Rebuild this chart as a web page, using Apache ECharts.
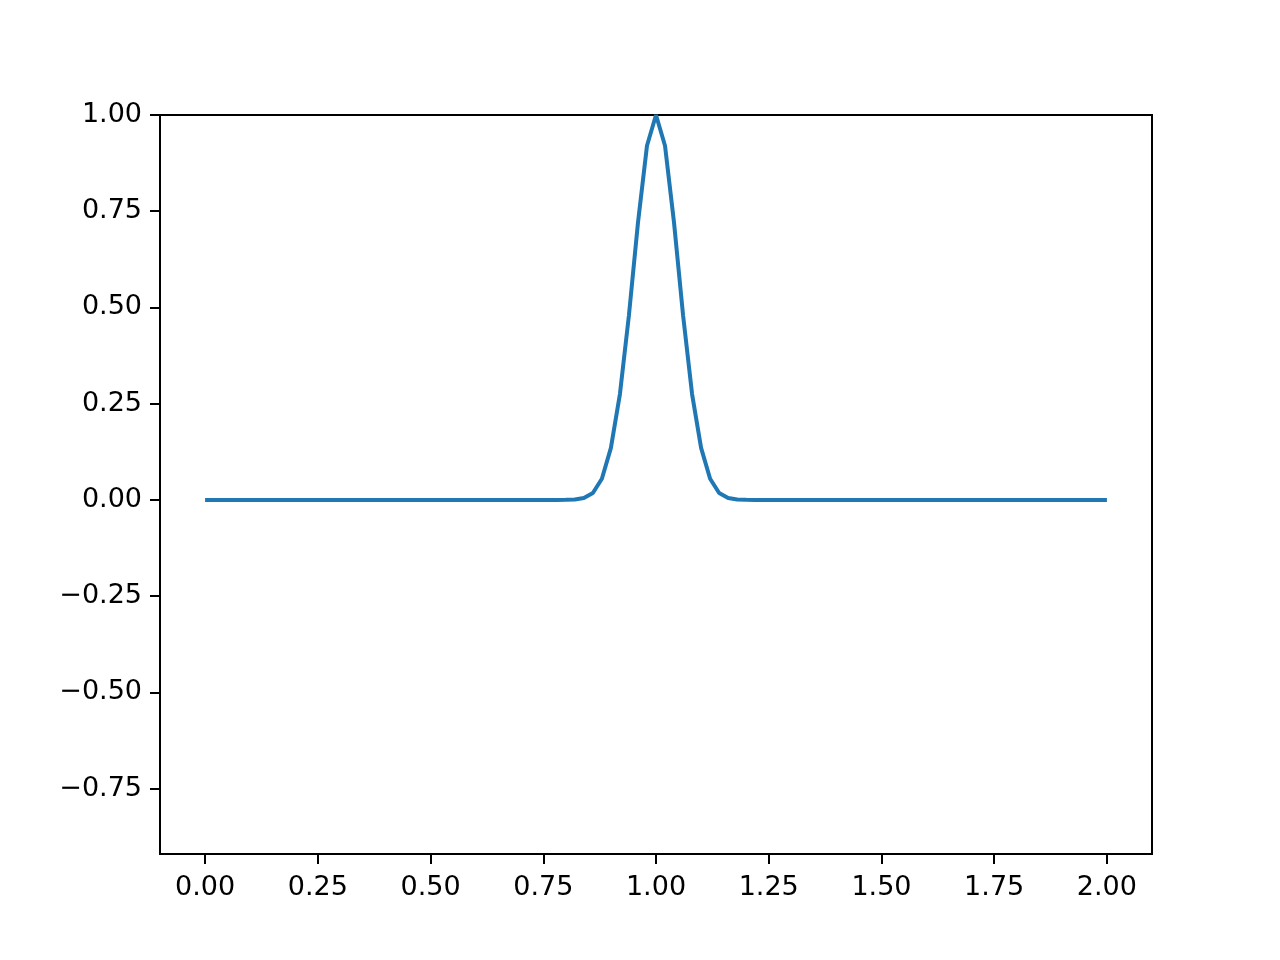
<!DOCTYPE html>
<html>
<head>
<meta charset="utf-8">
<script src="https://cdn.jsdelivr.net/npm/echarts@6/dist/echarts.min.js"></script>
<style>
html,body{margin:0;padding:0;background:#fff;}
#chart{width:1280px;height:960px;}
</style>
</head>
<body>
<div id="chart"></div>
<script>
const xValues = [0.00, 0.78, 0.80, 0.82, 0.84, 0.86, 0.88, 0.90, 0.92, 0.94, 0.96, 0.98, 1.00, 1.02, 1.04, 1.06, 1.08, 1.10, 1.12, 1.14, 1.16, 1.18, 1.20, 1.22, 2.00];
const yValues = [0.000, 0.000, 0.0003, 0.0012, 0.005, 0.018, 0.055, 0.135, 0.275, 0.48, 0.72, 0.92, 1.00, 0.92, 0.72, 0.48, 0.275, 0.135, 0.055, 0.018, 0.005, 0.0012, 0.0003, 0.000, 0.000];
const xTicks = [0.00, 0.25, 0.50, 0.75, 1.00, 1.25, 1.50, 1.75, 2.00];
const yTicks = [-0.75, -0.50, -0.25, 0.00, 0.25, 0.50, 0.75, 1.00];

const fmt = v => (v < 0 ? '\u2212' : '') + Math.abs(v).toFixed(2);
const chart = echarts.init(document.getElementById('chart'), null, {renderer: 'canvas'});
const labelStyle = {color: '#000', fontFamily: 'DejaVu Sans', fontSize: 27};
chart.setOption({
  animation: false,
  backgroundColor: '#fff',
  grid: {left: 160, right: 128, top: 115, bottom: 106, show: true, borderColor: '#000', borderWidth: 2, backgroundColor: 'transparent'},
  xAxis: {
    type: 'value', min: -0.1, max: 2.1,
    axisLine: {show: true, onZero: false, lineStyle: {color: '#000', width: 2}},
    axisTick: {show: true, inside: false, length: 10, lineStyle: {color: '#000', width: 2}, customValues: xTicks},
    axisLabel: Object.assign({margin: 20, formatter: fmt, customValues: xTicks}, labelStyle),
    splitLine: {show: false}
  },
  yAxis: {
    type: 'value', min: -0.92, max: 1.0,
    axisLine: {show: true, onZero: false, lineStyle: {color: '#000', width: 2}},
    axisTick: {show: true, inside: false, length: 10, lineStyle: {color: '#000', width: 2}, customValues: yTicks},
    axisLabel: Object.assign({margin: 18, formatter: fmt, customValues: yTicks}, labelStyle),
    splitLine: {show: false}
  },
  series: [{
    type: 'line',
    data: xValues.map((x, i) => [x, yValues[i]]),
    showSymbol: false,
    lineStyle: {color: '#1f77b4', width: 4},
    itemStyle: {color: '#1f77b4'},
    clip: true
  }]
});
</script>
</body>
</html>
